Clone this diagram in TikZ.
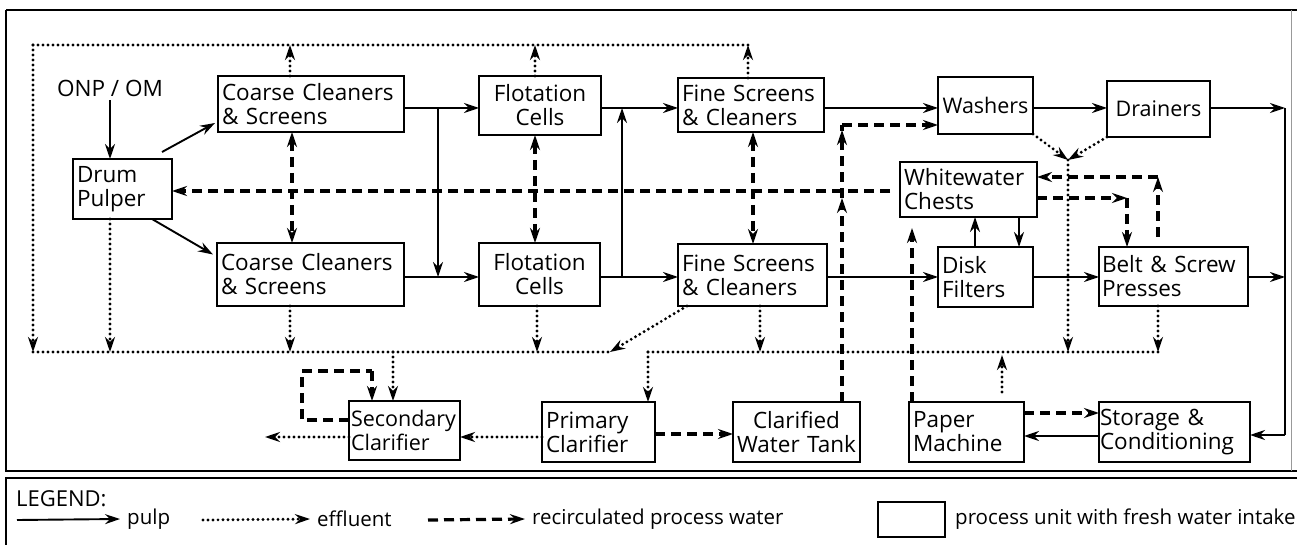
\documentclass[tikz,border=0pt]{standalone}
\usepackage{fontspec}
\setmainfont{Open Sans}
\usetikzlibrary{arrows.meta,calc}
\newcommand\myfs{\fontsize{22.5}{24}\selectfont}
\newcommand\legfs{\fontsize{20.5}{24}\selectfont}
\tikzset{
  unit/.style={draw, line width=2.2pt, inner xsep=4pt, inner ysep=0pt, outer sep=0pt, font=\myfs},
  tipA/.style={-{Stealth[length=15pt,width=10pt,inset=5pt]}},
  tipB/.style={{Stealth[length=15pt,width=10pt,inset=5pt]}-{Stealth[length=15pt,width=10pt,inset=5pt]}},
  pulpline/.style={line width=1.9pt},
  pulp/.style={pulpline, tipA},
  effline/.style={line width=3.2pt, dash pattern=on 0pt off 5pt, line cap=round},
  eff/.style={effline, tipA},
  recircline/.style={line width=3.2pt, dash pattern=on 10pt off 6pt},
  recirc/.style={recircline, tipA},
  recircboth/.style={recircline, tipB},
  lbl/.style={font=\legfs, inner sep=0pt},
}
\begin{document}
\begin{tikzpicture}[x=1pt,y=-1pt]
\useasboundingbox (0,0) rectangle (1299,545);
% frames
\draw[line width=2pt] (6,10) -- (1297,10);
\draw[line width=2pt] (6,10) -- (6,471) -- (1297,471);
\draw[line width=1pt, black!40] (1291,10) -- (1291,471);
\draw[line width=2pt] (1297,478) -- (6,478) -- (6,560);

% units
\node[lbl, font=\myfs] (onp) at (110,88) {ONP / OM};
\node[unit, text width=91pt, minimum height=60pt, align=left] (pulper) at (122.5,189) {Drum\\Pulper};
\node[unit, text width=178pt, minimum height=56pt, align=left] (cc1) at (311,104) {Coarse Cleaners\\\& Screens};
\node[unit, text width=179pt, minimum height=63pt, align=left] (cc2) at (310.5,274.5) {Coarse Cleaners\\\& Screens};
\node[unit, text width=114pt, minimum height=59pt, align=center] (fl1) at (540,105.5) {Flotation\\Cells};
\node[unit, text width=113pt, minimum height=63pt, align=center] (fl2) at (539.5,274.5) {Flotation\\Cells};
\node[unit, text width=138pt, minimum height=54pt, align=left] (fs1) at (751,105) {Fine Screens\\\& Cleaners};
\node[unit, text width=141pt, minimum height=62pt, align=left] (fs2) at (752.5,275) {Fine Screens\\\& Cleaners};
\node[unit, text width=87pt, minimum height=57pt, align=center, font=\fontsize{21.5}{24}\selectfont] (wash) at (985.5,105.5) {Washers};
\node[unit, text width=95pt, minimum height=56pt, align=center, font=\fontsize{21.5}{24}\selectfont] (drain) at (1158.5,109) {Drainers};
\node[unit, text width=129pt, minimum height=55pt, align=left] (white) at (968.5,189.5) {Whitewater\\Chests};
\node[unit, text width=87pt, minimum height=60pt, align=left] (disk) at (985.5,277) {Disk\\Filters};
\node[unit, text width=143pt, minimum height=59pt, align=left, inner xsep=3pt] (belt) at (1173.5,276.5) {Belt \& Screw\\Presses};
\node[unit, text width=111pt, minimum height=59pt, align=left, inner xsep=0pt, font=\fontsize{21.5}{24}\selectfont] (sec) at (404.5,430.5) {\hspace{2pt}Secondary\\\hspace{2pt}Clarifier};
\node[unit, text width=105pt, minimum height=60pt, align=left] (prim) at (598.5,432) {Primary\\Clarifier};
\node[unit, text width=121pt, minimum height=60pt, align=center, inner xsep=3pt] (clar) at (796.5,432) {Clarified\\Water Tank};
\node[unit, text width=107pt, minimum height=60pt, align=left] (paper) at (966.5,432) {Paper\\Machine};
\node[unit, text width=149pt, minimum height=60pt, align=left, inner xsep=1pt] (stor) at (1174.5,432) {Storage \&\\Conditioning};

% helper coordinates
\coordinate (ytop) at (0,108);
\coordinate (ybot) at (0,277);
\coordinate (ydash) at (0,191);
\coordinate (j1) at (438,108);
\coordinate (j2) at (622,277);
\coordinate (rT) at (1285,108);
\coordinate (rM) at (1285,277);
\coordinate (rB) at (1285,435);
\coordinate (eTL) at (33,45);
\coordinate (eTR) at (748,45);
\coordinate (eBL) at (33,352);
\coordinate (eBLend) at (610,352);
\coordinate (eBRs) at (648,352);
\coordinate (eBR) at (1158,352);
\coordinate (wd) at (1068,160);
\coordinate (dA) at (842,125);
\coordinate (dB) at (1127,198);
\coordinate (dC) at (1158,177);
\coordinate (sA) at (302,420);
\coordinate (sB) at (302,371);
\coordinate (sC) at (372,371);

% pulp
\draw[pulp] ([yshift=-4pt]onp.south) -- (onp.south |- pulper.north);
\draw[pulp] ([xshift=-10pt,yshift=7pt]pulper.north east) -- ([xshift=-3pt,yshift=-19pt]cc1.west);
\draw[pulp] ([xshift=-20pt]pulper.south east) -- ([xshift=-4pt,yshift=20pt]cc2.west);
\draw[pulp] (cc1.east |- ytop) -- (fl1.west |- ytop);
\draw[pulp] (j1) -- (j1 |- ybot);
\draw[pulp] (cc2.east |- ybot) -- (fl2.west |- ybot);
\draw[pulp] (fl2.east |- ybot) -- (fs2.west |- ybot);
\draw[pulp] (j2) -- (j2 |- ytop);
\draw[pulp] (fl1.east |- ytop) -- (fs1.west |- ytop);
\draw[pulp] (fs1.east |- ytop) -- (wash.west |- ytop);
\draw[pulp] (fs2.east |- ybot) -- (disk.west |- ybot);
\draw[pulp] (wash.east |- ytop) -- (drain.west |- ytop);
\draw[pulp] (drain.east |- ytop) -- (rT);
\draw[pulp] (disk.east |- ybot) -- (belt.west |- ybot);
\draw[pulp] (belt.east |- ybot) -- (rM);
\draw[pulpline] (rT) -- (rB);
\draw[pulp] (rB) -- (stor.east |- rB);
\draw[pulp] (stor.west |- 0,436) -- (paper.east |- 0,436);
\draw[pulp] (disk.north -| 975,0) -- (white.south -| 975,0);
\draw[pulp] (white.south -| 1019,0) -- (disk.north -| 1019,0);

% effluent
\draw[effline] (eTL) -- (eTR);
\draw[eff] (eTL) -- (eBL);
\draw[eff] (cc1.north -| 290,0) -- (290,45);
\draw[eff] (fl1.north -| 535,0) -- (535,45);
\draw[eff] (fs1.north -| eTR) -- (eTR);
\draw[effline] (eBL) -- (eBLend);
\draw[eff] (pulper.south -| 110,0) -- (110,352);
\draw[eff] (cc2.south -| 290,0) -- (290,352);
\draw[eff] (fl2.south -| 537,0) -- (537,352);
\draw[eff] ([xshift=9pt]fs2.south west) -- (eBLend);
\draw[eff] (393,352) -- (sec.north -| 393,0);
\draw[effline] (eBRs) -- (eBR);
\draw[eff] (eBRs) -- (prim.north -| eBRs);
\draw[eff] (fs2.south -| 760,0) -- (760,352);
\draw[eff] (wash.south east) -- (wd);
\draw[eff] (drain.south west) -- (wd);
\draw[eff] (wd) -- (1068,352);
\draw[eff] (belt.south -| eBR) -- (eBR);
\draw[eff] ([yshift=10pt]paper.north -| 1002,0) -- (1002,355);
\draw[eff] (sec.west |- 0,437) -- (265,437);
\draw[eff] (prim.west |- 0,437) -- (sec.east |- 0,437);

% recirculated water
\draw[recirc] ([xshift=-10pt]white.west |- ydash) -- (pulper.east |- ydash);
\draw[recircboth] (cc1.south -| 292,0) -- (cc2.north -| 292,0);
\draw[recircboth] (fl1.south -| 535,0) -- (fl2.north -| 535,0);
\draw[recircboth] (fs1.south -| 753,0) -- (fs2.north -| 753,0);
\draw[recirc] (clar.north -| dA) -- (842,198);
\draw[recirc] (842,198) -- (842,130);
\draw[recircline] (842,131) -- (dA);
\draw[recirc] (dA) -- (wash.west |- dA);
\draw[recirc] (paper.north -| 912,0) -- (912,228);
\draw[recirc] (prim.east |- 0,434) -- (clar.west |- 0,434);
\draw[recirc] (paper.east |- 0,413) -- (stor.west |- 0,413);
\draw[recirc] (white.east |- dB) -- (dB);
\draw[recirc] (dB) -- (belt.north -| dB);
\draw[recirc] ([yshift=10pt]belt.north -| dC) -- (dC);
\draw[recirc] (dC) -- (white.east |- dC);
\draw[recircline] (sec.west |- sA) -- (sA) -- (sB) -- (sC);
\draw[recirc] (sC) -- (sec.north -| sC);

% legend
\node[lbl, anchor=west, font=\fontsize{22}{24}\selectfont] (leg) at (16,499) {LEGEND:};
\coordinate (lp1) at (17,520);
\node[lbl, anchor=west, inner xsep=7pt] (lpulp) at (120,519) {pulp};
\draw[pulp] (lp1) -- (lpulp.west);
\coordinate (le1) at (203,520);
\node[lbl, anchor=west, inner xsep=7pt] (leff) at (310,519) {effluent};
\draw[eff] (le1) -- (leff.west);
\coordinate (lr1) at (428,520);
\node[lbl, anchor=west, inner xsep=7pt] (lrec) at (525,519) {recirculated process water};
\draw[recirc] (lr1) -- (lrec.west);
\node[draw, line width=2pt, minimum width=67pt, minimum height=35pt, inner sep=0pt] (lbox) at (911.5,519.5) {};
\node[lbl, anchor=west] (lunit) at (955,519) {process unit with fresh water intake};
\end{tikzpicture}
\end{document}
